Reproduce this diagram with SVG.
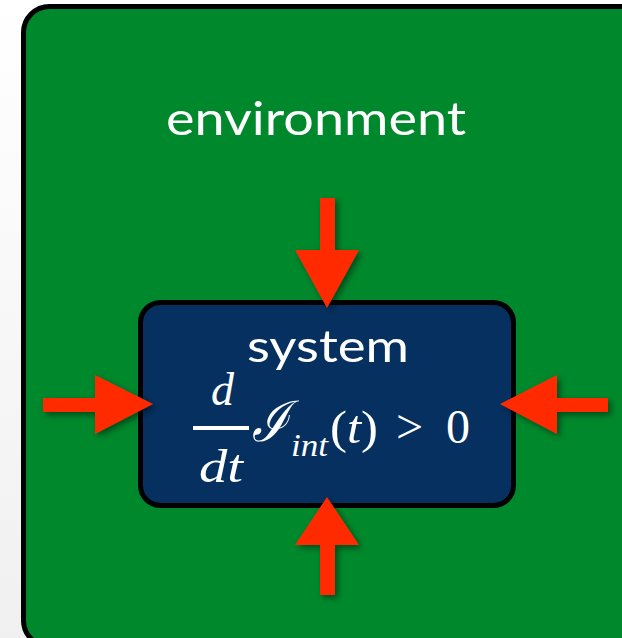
<svg xmlns="http://www.w3.org/2000/svg" width="622" height="638" viewBox="0 0 622 638">
<defs>
<linearGradient id="bg" x1="0" y1="0" x2="0" y2="1">
<stop offset="0" stop-color="#ffffff"/>
<stop offset="1" stop-color="#f0f0f0"/>
</linearGradient>
<filter id="sh" x="-30%" y="-30%" width="160%" height="160%">
<feGaussianBlur in="SourceAlpha" stdDeviation="3"/>
<feOffset dx="3" dy="3" result="b"/>
<feFlood flood-color="#000" flood-opacity="0.45"/>
<feComposite in2="b" operator="in"/>
<feMerge><feMergeNode/><feMergeNode in="SourceGraphic"/></feMerge>
</filter>
<style>
.lbl{fill:#fff;font-family:Lato,"Open Sans","DejaVu Sans",sans-serif;}
.m{fill:#fff;font-family:"Liberation Serif","DejaVu Serif",serif;font-style:italic;}
.mr{fill:#fff;font-family:"Liberation Serif","DejaVu Serif",serif;}
.arr{fill:#ff2a00;filter:url(#sh);}
</style>
</defs>
<rect width="622" height="638" fill="url(#bg)"/>
<g id="environment">
<rect x="23.5" y="6.5" width="630" height="640" rx="26" fill="#00882c" stroke="#000" stroke-width="5"/>
<text class="lbl" x="166" y="135" font-size="46" textLength="300" lengthAdjust="spacingAndGlyphs">environment</text>
</g>
<g id="system">
<rect x="140.5" y="302.5" width="373" height="203" rx="20" fill="#05305f" stroke="#000" stroke-width="5"/>
<text class="lbl" x="247" y="362" font-size="44" textLength="162" lengthAdjust="spacingAndGlyphs">system</text>
<text class="m" x="211" y="405" font-size="46">d</text>
<rect x="193" y="426" width="56" height="4" fill="#fff"/>
<text class="m" x="199" y="482" font-size="46" textLength="44" lengthAdjust="spacingAndGlyphs">dt</text>
<text class="m" x="252" y="441" font-size="56" font-family="DejaVu Serif,serif" textLength="37" lengthAdjust="spacingAndGlyphs">ℐ</text>
<text class="m" x="291" y="456" font-size="32" textLength="37" lengthAdjust="spacingAndGlyphs">int</text>
<text class="mr" x="330" y="443" font-size="46" textLength="48" lengthAdjust="spacingAndGlyphs">(<tspan font-style="italic">t</tspan>)</text>
<text class="mr" x="396" y="443" font-size="48">&gt;</text>
<text class="mr" x="446" y="443" font-size="48">0</text>
</g>
<g id="connectors">
<polygon class="arr" points="320,198 335,198 335,250 359,250 327,308 295,250 320,250"/>
<polygon class="arr" points="320,595 335,595 335,545 359,545 327,497 295,545 320,545"/>
<polygon class="arr" points="43,398 95,398 95,375 153,404 95,434 95,412 43,412"/>
<polygon class="arr" points="608,398 557,398 557,375 500,404 557,434 557,412 608,412"/>
</g>
</svg>
